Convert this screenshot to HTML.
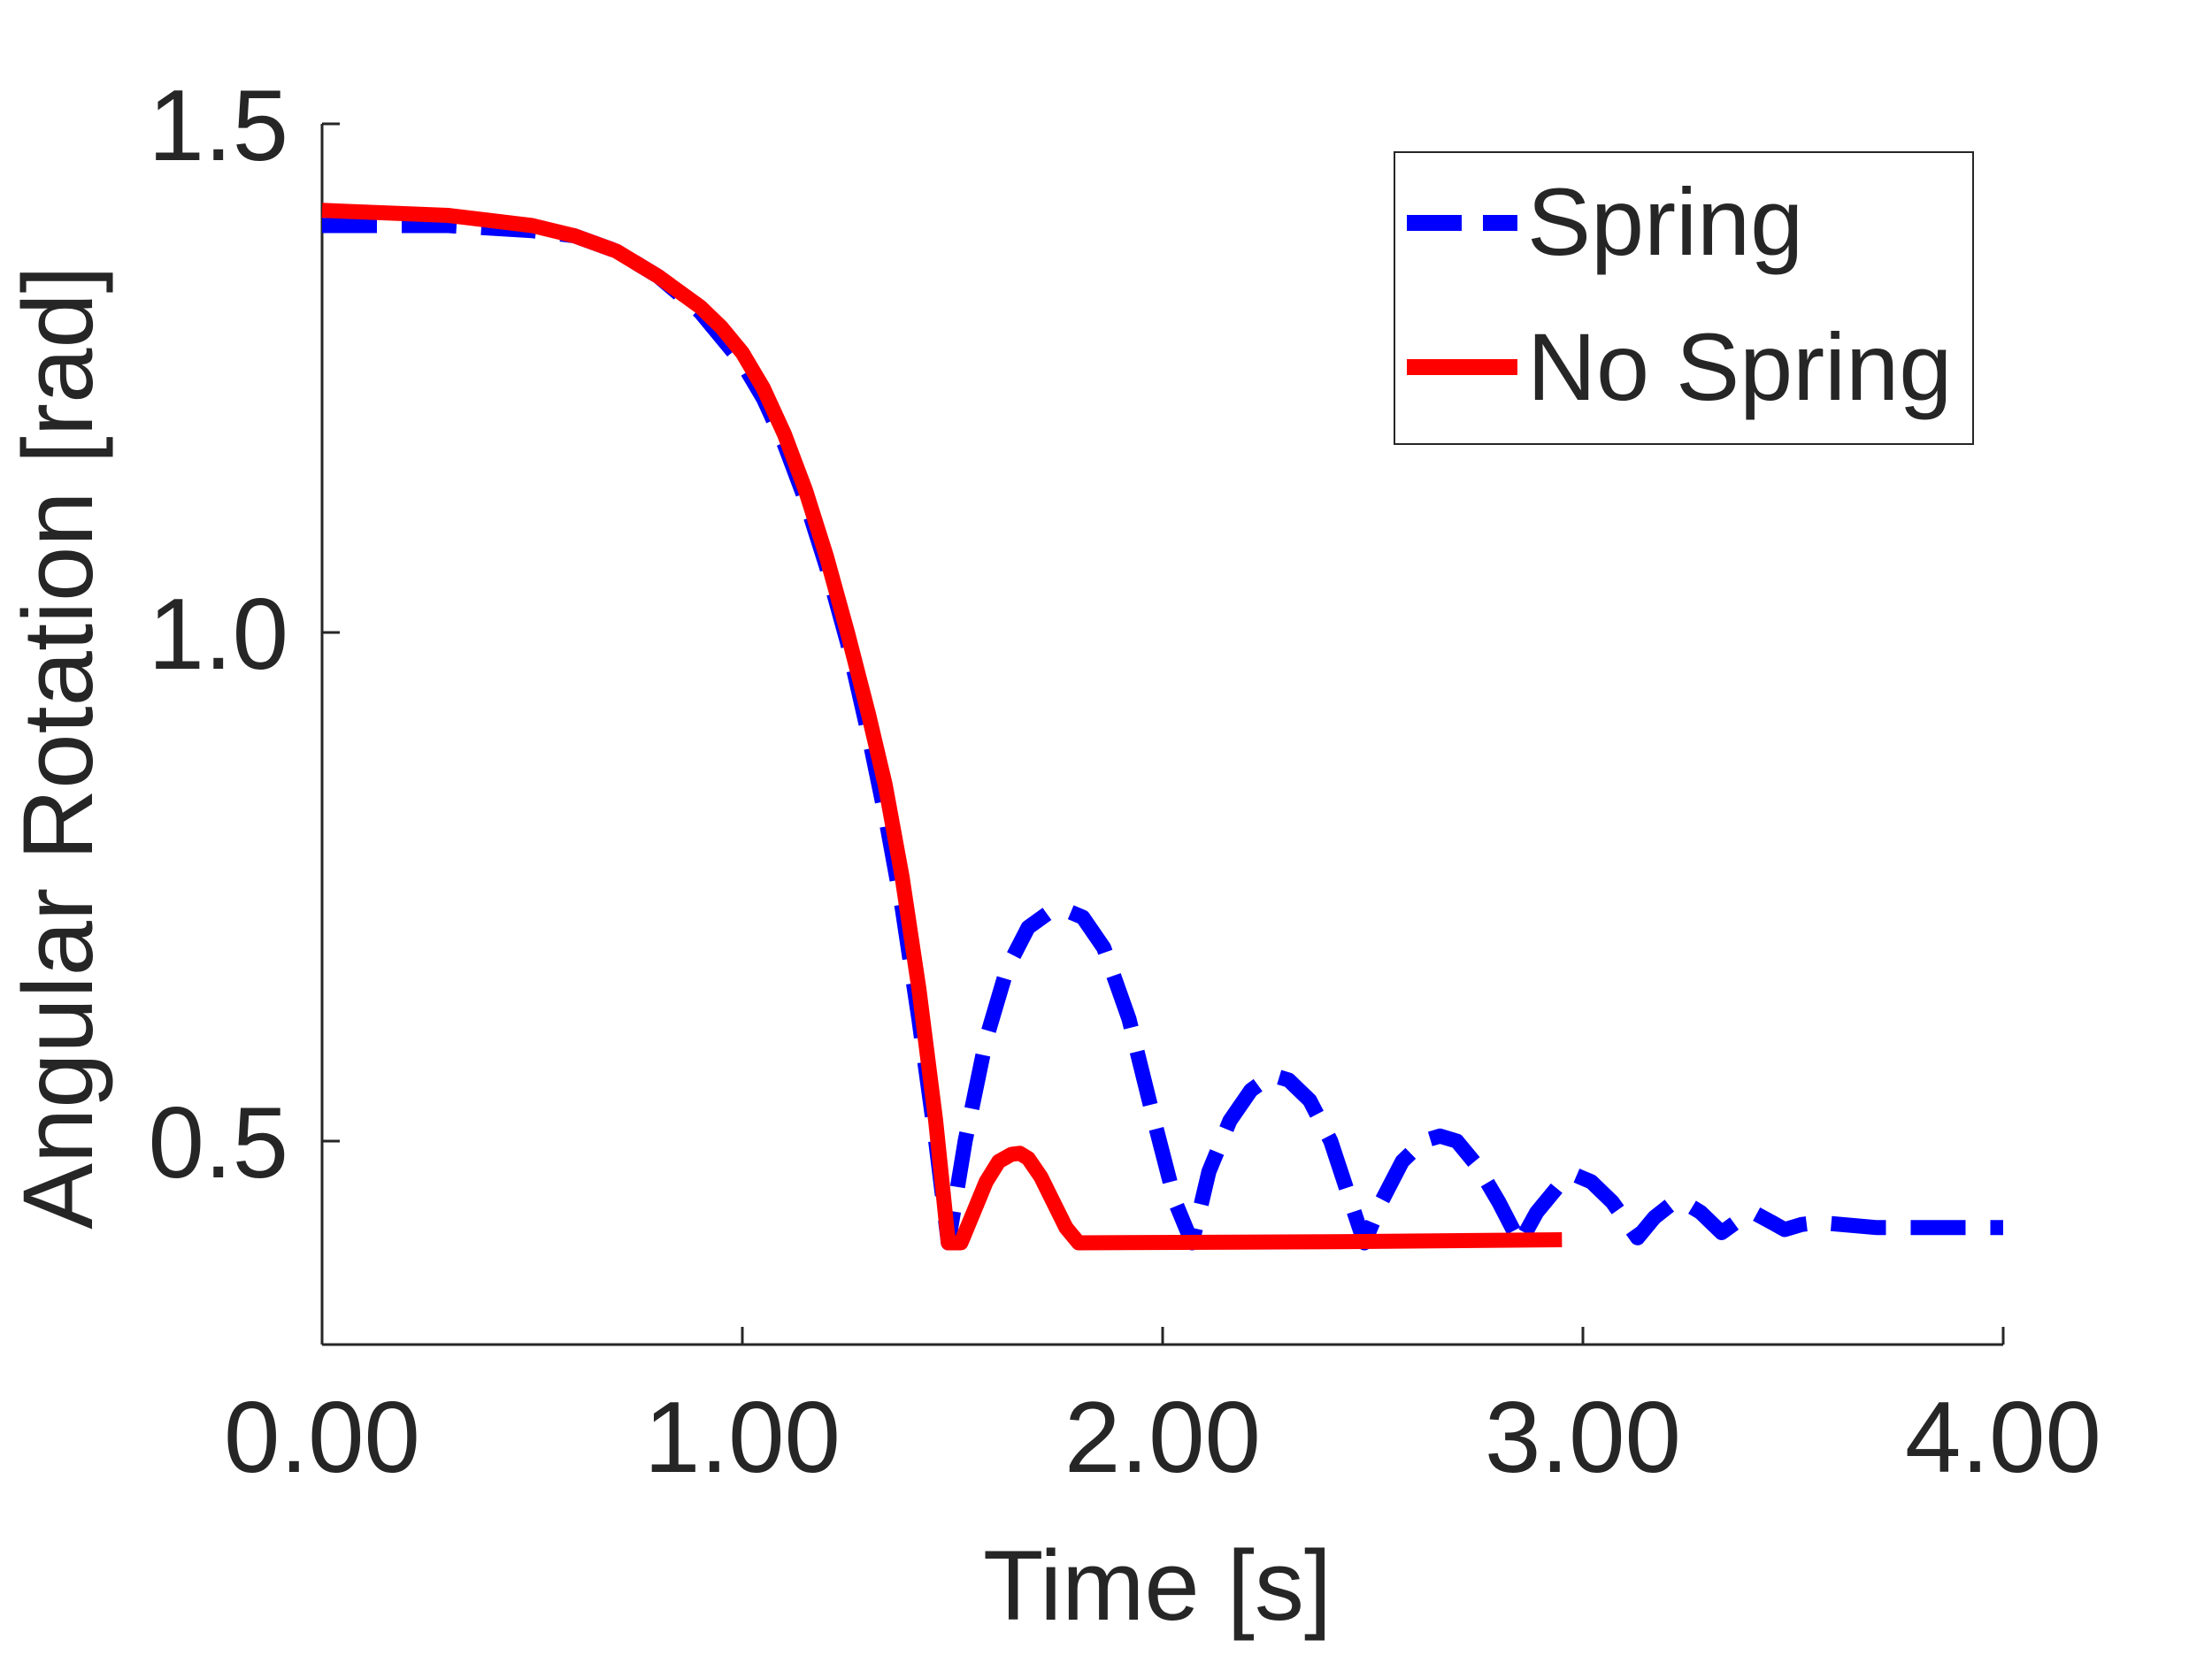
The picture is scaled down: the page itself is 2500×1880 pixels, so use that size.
<!DOCTYPE html>
<html><head><meta charset="utf-8"><style>
html,body{margin:0;padding:0;background:#fff;}
svg text{font-family:"Liberation Sans Narrow","Liberation Sans",sans-serif;fill:#262626;}
</style></head><body>
<svg id="chart" width="2500" height="1875" viewBox="0 0 2500 1875" xmlns="http://www.w3.org/2000/svg">
<rect width="2500" height="1875" fill="#fff"/>
<g id="axes"></g>
<g id="series"></g>
<g id="legend">
<rect x="1576" y="172" width="654" height="330" fill="#fff" stroke="#262626" stroke-width="2"/>
<line x1="1590" y1="252" x2="1715" y2="252" stroke="#0000ff" stroke-width="18" stroke-dasharray="62,24"/>
<text x="1726" y="288" font-size="108">Spring</text>
<line x1="1590" y1="415" x2="1715" y2="415" stroke="#ff0000" stroke-width="18"/>
<text x="1726" y="452" font-size="108">No Spring</text>
</g>
<text x="1308" y="1831" font-size="112" text-anchor="middle">Time [s]</text>
<text transform="translate(104,845) rotate(-90)" font-size="112" text-anchor="middle">Angular Rotation [rad]</text>
</svg>
<script>
const xTicks = [0, 1, 2, 3, 4];
const xTickLabels = ["0.00", "1.00", "2.00", "3.00", "4.00"];
const yTicks = [0.5, 1.0, 1.5];
const yTickLabels = ["0.5", "1.0", "1.5"];
const springT = [0,0.3,0.5,0.6,0.7,0.8,0.9,1.0,1.05,1.1,1.15,1.2,1.25,1.3,1.34,1.38,1.42,1.46,1.49,1.53,1.58,1.63,1.68,1.73,1.77,1.81,1.86,1.92,1.98,2.03,2.07,2.11,2.16,2.21,2.26,2.30,2.35,2.40,2.44,2.48,2.52,2.57,2.62,2.66,2.70,2.75,2.80,2.85,2.89,2.94,2.98,3.02,3.07,3.13,3.17,3.21,3.24,3.28,3.33,3.37,3.41,3.45,3.48,3.52,3.56,3.7,4.0];
const springV = [1.40,1.40,1.395,1.39,1.375,1.35,1.315,1.265,1.23,1.185,1.13,1.065,0.99,0.90,0.82,0.73,0.62,0.50,0.40,0.50,0.60,0.67,0.71,0.725,0.727,0.72,0.69,0.62,0.52,0.44,0.40,0.47,0.52,0.55,0.565,0.56,0.54,0.50,0.45,0.40,0.44,0.48,0.50,0.505,0.50,0.475,0.44,0.40,0.43,0.455,0.467,0.46,0.44,0.405,0.425,0.438,0.44,0.43,0.41,0.422,0.429,0.42,0.413,0.418,0.42,0.415,0.415];
const noSpringT = [0,0.3,0.5,0.6,0.7,0.8,0.9,0.95,1.0,1.05,1.1,1.15,1.2,1.25,1.3,1.34,1.38,1.42,1.46,1.49,1.52,1.55,1.58,1.61,1.64,1.66,1.68,1.71,1.74,1.77,1.8,2.4,2.95];
const noSpringV = [1.415,1.41,1.40,1.39,1.375,1.35,1.32,1.30,1.275,1.24,1.195,1.14,1.075,1.0,0.92,0.85,0.76,0.65,0.52,0.40,0.40,0.43,0.46,0.48,0.487,0.488,0.483,0.465,0.44,0.415,0.40,0.401,0.403];

const X0 = 364, X1 = 2264, YT = 140, YB = 1520;
const xs = t => X0 + (t - 0) / 4 * (X1 - X0);
const ys = v => YB - (v - 0.3) / 1.2 * (YB - YT);
const NS = "http://www.w3.org/2000/svg";
const axes = document.getElementById('axes');
function mk(tag, attrs, parent) {
  const e = document.createElementNS(NS, tag);
  for (const k in attrs) e.setAttribute(k, attrs[k]);
  parent.appendChild(e);
  return e;
}
let e = mk('line', {x1: X0, y1: YB, x2: X1, y2: YB, stroke: '#262626', 'stroke-width': 3}, axes);


e = mk('line', {x1: X0, y1: YB, x2: X0, y2: YT, stroke: '#262626', 'stroke-width': 3}, axes);


xTicks.forEach((t, i) => {
  const tk = mk('line', {x1: xs(t), y1: YB, x2: xs(t), y2: YB - 20, stroke: '#262626', 'stroke-width': 3}, axes);
  
  
  const lb = mk('text', {x: xs(t), y: 1664, 'font-size': 114, 'text-anchor': 'middle'}, axes);
  lb.textContent = xTickLabels[i];
  
  
});
yTicks.forEach((v, i) => {
  const tk = mk('line', {x1: X0, y1: ys(v), x2: X0 + 20, y2: ys(v), stroke: '#262626', 'stroke-width': 3}, axes);
  
  
  const lb = mk('text', {x: 326, y: ys(v) + 41, 'font-size': 114, 'text-anchor': 'end'}, axes);
  lb.textContent = yTickLabels[i];
  
  
});
const series = document.getElementById('series');
function pts(T, V) { return T.map((t, i) => xs(t).toFixed(1) + ',' + ys(V[i]).toFixed(1)).join(' '); }
const s1 = mk('polyline', {points: pts(springT, springV), fill: 'none', stroke: '#0000ff', 'stroke-width': 17, 'stroke-dasharray': '62,28', 'stroke-linejoin': 'round'}, series);


const s2 = mk('polyline', {points: pts(noSpringT, noSpringV), fill: 'none', stroke: '#ff0000', 'stroke-width': 17, 'stroke-linejoin': 'round'}, series);


</script>
</body></html>
